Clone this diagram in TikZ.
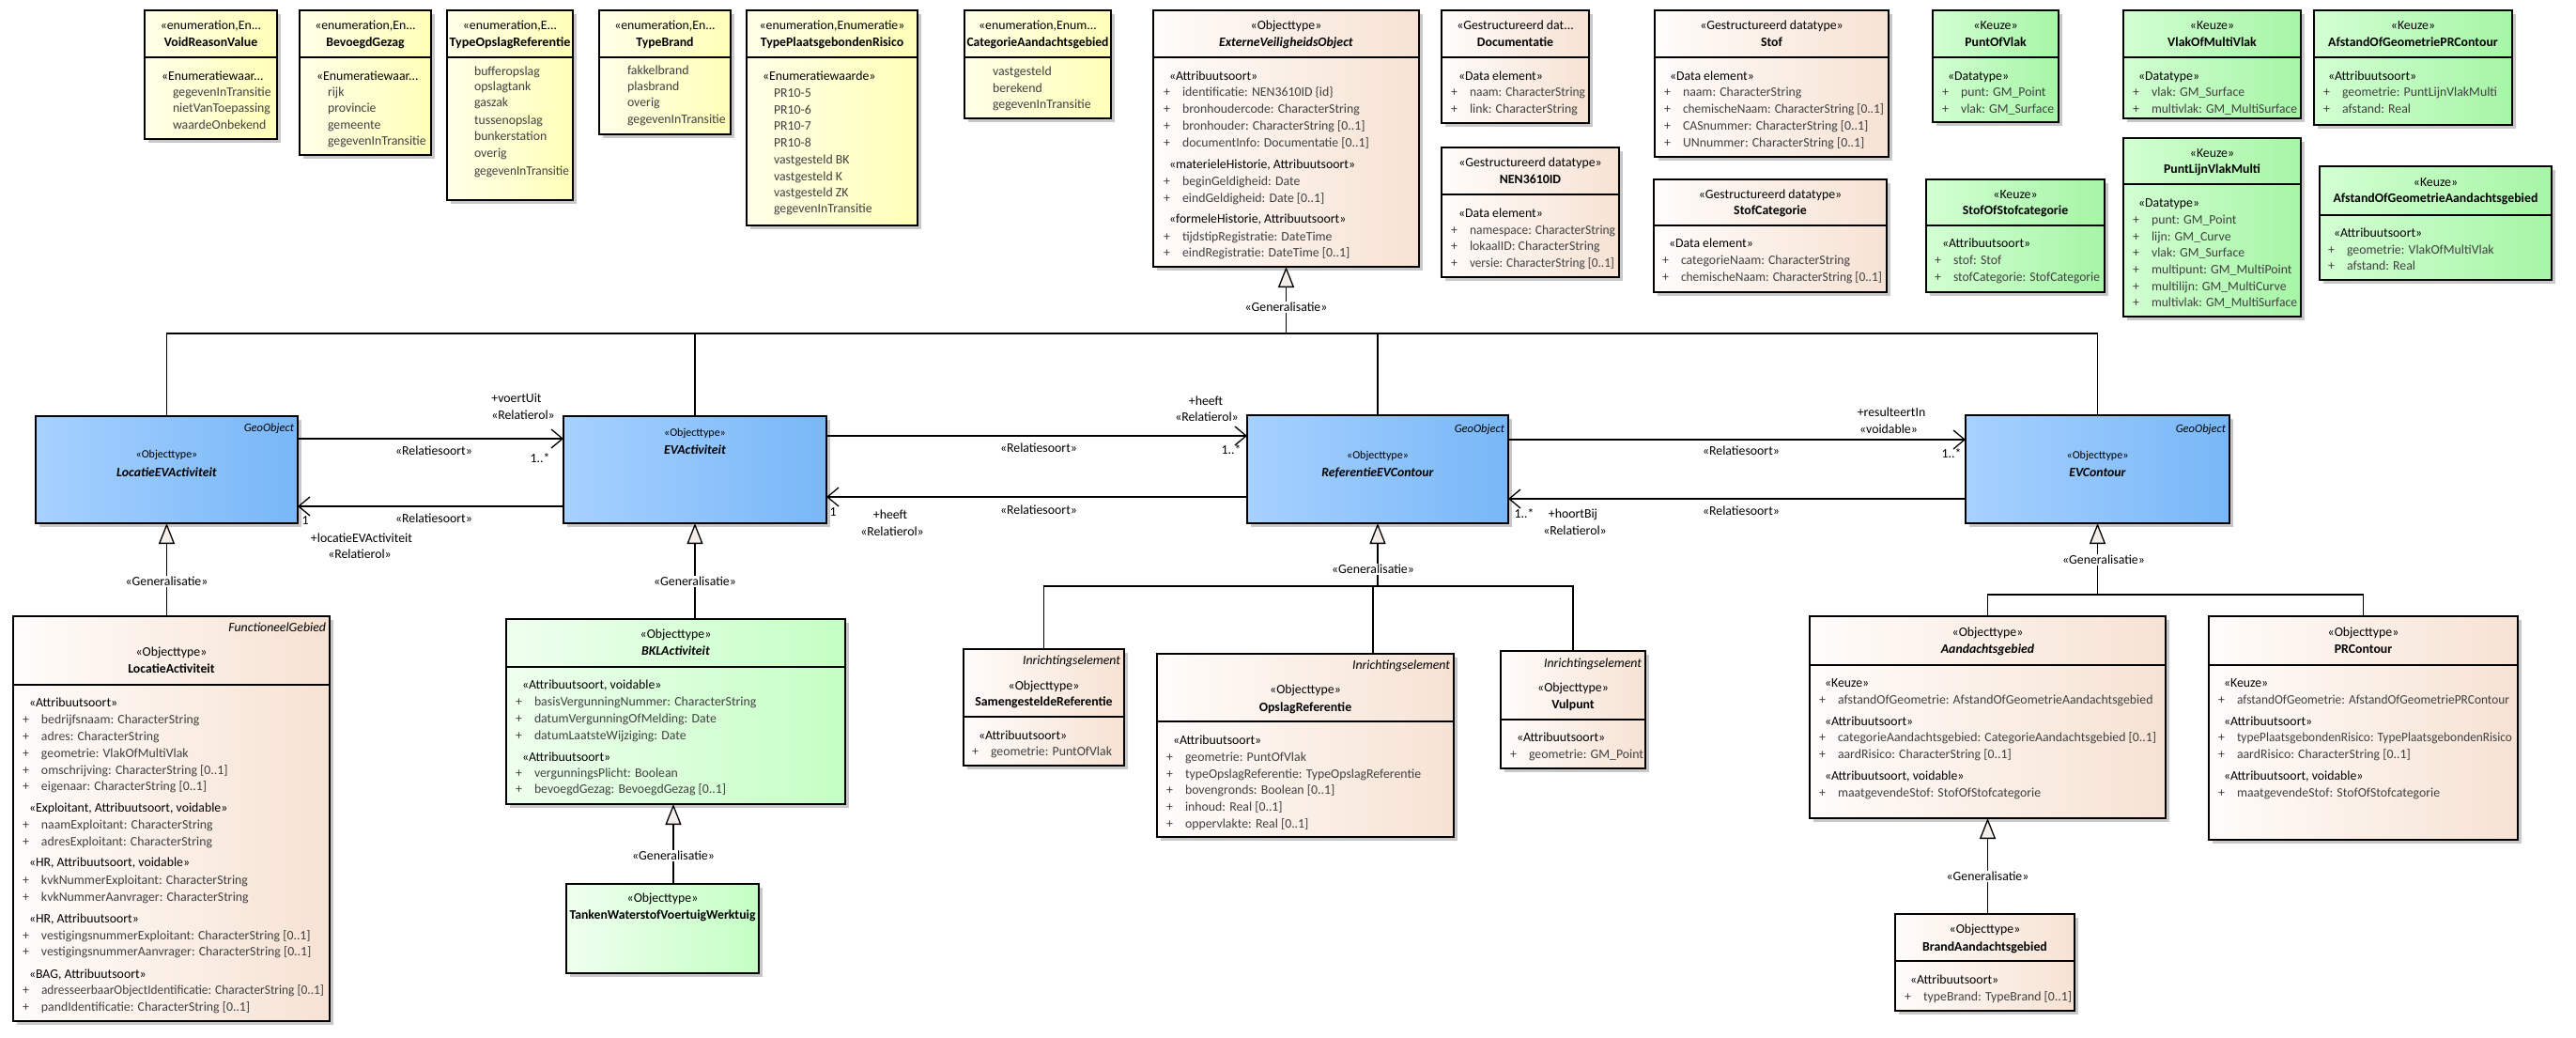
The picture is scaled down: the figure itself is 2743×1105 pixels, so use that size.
\documentclass[tikz,border=0pt]{standalone}
\usepackage{fontspec}
\usepackage{graphicx}
\setmainfont{Carlito}
\usetikzlibrary{arrows.meta}
\definecolor{enumL}{HTML}{FFFFE8}
\definecolor{enumR}{HTML}{FFFFB8}
\definecolor{objL}{HTML}{FFFCFA}
\definecolor{objR}{HTML}{F6E2D3}
\definecolor{keuL}{HTML}{D2FFD2}
\definecolor{keuR}{HTML}{A6F5A6}
\definecolor{bklL}{HTML}{EFFFEF}
\definecolor{bklR}{HTML}{C4FFC4}
\definecolor{geoL}{HTML}{A6D1FF}
\definecolor{geoR}{HTML}{78B7F7}
\definecolor{shadowc}{HTML}{C8C8C8}
\definecolor{attrc}{HTML}{404040}
\definecolor{genfill}{HTML}{F5EEEA}
\tikzset{
  box/.style={draw=black,line width=1.3pt,outer sep=0pt,inner sep=0pt},
  enumbox/.style={box,left color=enumL,right color=enumR},
  objbox/.style={box,left color=objL,right color=objR},
  keuzebox/.style={box,left color=keuL,right color=keuR},
  bklbox/.style={box,left color=bklL,right color=bklR},
  geobox/.style={box,left color=geoL,right color=geoR},
  txt/.style={inner sep=0pt,outer sep=0pt,font=\fontsize{13.8}{16}\selectfont},
  ster/.style={txt,text=black},
  attr/.style={txt,text=attrc},
  genlab/.style={txt,text=black,fill=white,inner sep=1.5pt},
  divline/.style={draw=black,line width=1.1pt},
  conn/.style={draw=black,line width=1.3pt},
  assoc/.style={conn,-{Straight Barb[length=12pt,width=20pt,line width=1.3pt]}},
  gen/.style={conn,-{Triangle[length=22pt,width=17pt,fill=genfill,line width=1.3pt]}},
}
\newcommand\umlS[4]{\node[ster,anchor=base west] (#1) at (#2,#3+4.3) {«#4};}
\newcommand\umlT[4]{\node[ster,anchor=base west] (#1) at (#2,#3+4.3) {#4};}
\newcommand\umlI[4]{\node[attr,anchor=base west] (#1) at (#2,#3+4.3) {#4};}
\newcommand\umlIw[5]{\node[attr,anchor=base west] (#1) at (#2,#3+4.3) {\resizebox{#4pt}{\height}{#5}};}
\newcommand\umlA[4]{\node[attr,anchor=base west] (#1) at (#2,#3+4.3) {\makebox[20pt][l]{+}#4};}
\newcommand\umlAw[5]{\node[attr,anchor=base west] (#1) at (#2,#3+4.3) {\makebox[20pt][l]{+}\resizebox{#4pt}{\height}{#5}};}
\newcommand\umlC[4]{\node[ster,anchor=base] (#1) at (#2,#3+4.3) {#4};}
\newcommand\umlCw[5]{\node[ster,anchor=base] (#1) at (#2,#3+4.3) {\resizebox{#4pt}{\height}{#5}};}
\newcommand\umlR[4]{\node[ster,anchor=base east] (#1) at (#2,#3+4.3) {\itshape #4};}
\newcommand\umlBox[6]{\fill[shadowc] (#3+4,#4+4) rectangle (#5+4,#6+4);
  \node[#2,anchor=north west,minimum width=#5-#3,minimum height=#6-#4] (#1) at (#3,#4) {};}
\newcommand\umlDiv[3]{\draw[divline] (#1,#3) -- (#2,#3);}
\begin{document}
\begin{tikzpicture}[x=1pt,y=-1pt]
\useasboundingbox (0,0) rectangle (2743,1105);
\fill[white] (0,0) rectangle (2743,1105);

% ---------------- enumerations ----------------
\umlBox{vrv}{enumbox}{154}{11}{295}{148}\umlDiv{154}{295}{61}
\umlC{vrv-h1}{224.5}{27}{«enumeration,En...}
\umlC{vrv-h2}{224.5}{45}{\textbf{VoidReasonValue}}
\umlT{vrv-s}{172}{81}{«Enumeratiewaar...}
\umlI{vrv-1}{184}{98}{gegevenInTransitie}
\umlI{vrv-2}{184}{115}{nietVanToepassing}
\umlI{vrv-3}{184}{133}{waardeOnbekend}

\umlBox{bg}{enumbox}{319}{11}{459}{165}\umlDiv{319}{459}{61}
\umlC{bg-h1}{389}{27}{«enumeration,En...}
\umlC{bg-h2}{389}{45}{\textbf{BevoegdGezag}}
\umlT{bg-s}{337}{81}{«Enumeratiewaar...}
\umlI{bg-1}{349}{98}{rijk}
\umlI{bg-2}{349}{115}{provincie}
\umlI{bg-3}{349}{133}{gemeente}
\umlI{bg-4}{349}{150}{gegevenInTransitie}

\umlBox{tor}{enumbox}{476}{11}{610}{213}\umlDiv{476}{610}{61}
\umlC{tor-h1}{543}{27}{«enumeration,E...}
\umlCw{tor-h2}{543}{45}{129}{\textbf{TypeOpslagReferentie}}
\umlI{tor-1}{505}{76}{bufferopslag}
\umlI{tor-2}{505}{92}{opslagtank}
\umlI{tor-3}{505}{109}{gaszak}
\umlI{tor-4}{505}{128}{tussenopslag}
\umlI{tor-5}{505}{145}{bunkerstation}
\umlI{tor-6}{505}{163}{overig}
\umlIw{tor-7}{505}{182}{101}{gegevenInTransitie}

\umlBox{tb}{enumbox}{638}{11}{778}{143}\umlDiv{638}{778}{61}
\umlC{tb-h1}{708}{27}{«enumeration,En...}
\umlC{tb-h2}{708}{45}{\textbf{TypeBrand}}
\umlI{tb-1}{668}{75}{fakkelbrand}
\umlI{tb-2}{668}{92}{plasbrand}
\umlI{tb-3}{668}{109}{overig}
\umlI{tb-4}{668}{127}{gegevenInTransitie}

\umlBox{tpr}{enumbox}{795}{11}{977}{240}\umlDiv{795}{977}{61}
\umlC{tpr-h1}{886}{27}{«enumeration,Enumeratie»}
\umlC{tpr-h2}{886}{45}{\textbf{TypePlaatsgebondenRisico}}
\umlS{tpr-s}{812}{81}{Enumeratiewaarde»}
\umlI{tpr-1}{824}{99}{PR10-5}
\umlI{tpr-2}{824}{117}{PR10-6}
\umlI{tpr-3}{824}{134}{PR10-7}
\umlI{tpr-4}{824}{152}{PR10-8}
\umlI{tpr-5}{824}{170}{vastgesteld BK}
\umlI{tpr-6}{824}{188}{vastgesteld K}
\umlI{tpr-7}{824}{205}{vastgesteld ZK}
\umlI{tpr-8}{824}{222}{gegevenInTransitie}

\umlBox{cag}{enumbox}{1027}{11}{1183}{126}\umlDiv{1027}{1183}{61}
\umlC{cag-h1}{1105}{27}{«enumeration,Enum...}
\umlCw{cag-h2}{1105}{45}{151}{\textbf{CategorieAandachtsgebied}}
\umlI{cag-1}{1057}{76}{vastgesteld}
\umlI{cag-2}{1057}{94}{berekend}
\umlI{cag-3}{1057}{111}{gegevenInTransitie}

% ---------------- ExterneVeiligheidsObject & datatypes ----------------
\umlBox{evo}{objbox}{1228}{11}{1511}{284}\umlDiv{1228}{1511}{61}
\umlC{evo-h1}{1369.5}{27}{«Objecttype»}
\umlC{evo-h2}{1369.5}{45}{\textbf{\textit{ExterneVeiligheidsObject}}}
\umlS{evo-s1}{1245}{81}{Attribuutsoort»}
\umlA{evo-1}{1239}{98}{identificatie: NEN3610ID \{id\}}
\umlA{evo-2}{1239}{116}{bronhoudercode: CharacterString}
\umlA{evo-3}{1239}{134}{bronhouder: CharacterString [0..1]}
\umlA{evo-4}{1239}{152}{documentInfo: Documentatie [0..1]}
\umlS{evo-s2}{1245}{175}{materieleHistorie, Attribuutsoort»}
\umlA{evo-5}{1239}{193}{beginGeldigheid: Date}
\umlA{evo-6}{1239}{211}{eindGeldigheid: Date [0..1]}
\umlS{evo-s3}{1245}{233}{formeleHistorie, Attribuutsoort»}
\umlA{evo-7}{1239}{252}{tijdstipRegistratie: DateTime}
\umlA{evo-8}{1239}{269}{eindRegistratie: DateTime [0..1]}

\umlBox{doc}{objbox}{1535}{11}{1692}{131}\umlDiv{1535}{1692}{61}
\umlC{doc-h1}{1613.5}{27}{«Gestructureerd dat...}
\umlC{doc-h2}{1613.5}{45}{\textbf{Documentatie}}
\umlS{doc-s}{1553}{81}{Data element»}
\umlAw{doc-1}{1545}{98}{123}{naam: CharacterString}
\umlA{doc-2}{1545}{116}{link: CharacterString}

\umlBox{nen}{objbox}{1535}{157}{1724}{295}\umlDiv{1535}{1724}{207}
\umlC{nen-h1}{1629.5}{173}{«Gestructureerd datatype»}
\umlC{nen-h2}{1629.5}{191}{\textbf{NEN3610ID}}
\umlS{nen-s}{1553}{227}{Data element»}
\umlAw{nen-1}{1545}{245}{155}{namespace: CharacterString}
\umlA{nen-2}{1545}{262}{lokaalID: CharacterString}
\umlAw{nen-3}{1545}{280}{154}{versie: CharacterString [0..1]}

\umlBox{stof}{objbox}{1762}{11}{2011}{167}\umlDiv{1762}{2011}{61}
\umlC{stof-h1}{1886.5}{27}{«Gestructureerd datatype»}
\umlC{stof-h2}{1886.5}{45}{\textbf{Stof}}
\umlS{stof-s}{1778}{81}{Data element»}
\umlA{stof-1}{1772}{98}{naam: CharacterString}
\umlAw{stof-2}{1772}{116}{214}{chemischeNaam: CharacterString [0..1]}
\umlA{stof-3}{1772}{134}{CASnummer: CharacterString [0..1]}
\umlA{stof-4}{1772}{152}{UNnummer: CharacterString [0..1]}

\umlBox{stofcat}{objbox}{1761}{191}{2009}{311}\umlDiv{1761}{2009}{240}
\umlC{stofcat-h1}{1885}{207}{«Gestructureerd datatype»}
\umlC{stofcat-h2}{1885}{224}{\textbf{StofCategorie}}
\umlS{stofcat-s}{1777}{259}{Data element»}
\umlA{stofcat-1}{1770}{277}{categorieNaam: CharacterString}
\umlAw{stofcat-2}{1770}{295}{214}{chemischeNaam: CharacterString [0..1]}

% ---------------- Keuze ----------------
\umlBox{pov}{keuzebox}{2058}{11}{2192}{130}\umlDiv{2058}{2192}{61}
\umlC{pov-h1}{2125}{27}{«Keuze»}
\umlC{pov-h2}{2125}{45}{\textbf{PuntOfVlak}}
\umlS{pov-s}{2074}{81}{Datatype»}
\umlA{pov-1}{2068}{98}{punt: GM\_Point}
\umlA{pov-2}{2068}{116}{vlak: GM\_Surface}

\umlBox{sos}{keuzebox}{2051}{191}{2241}{311}\umlDiv{2051}{2241}{240}
\umlC{sos-h1}{2146}{207}{«Keuze»}
\umlC{sos-h2}{2146}{224}{\textbf{StofOfStofcategorie}}
\umlS{sos-s}{2068}{259}{Attribuutsoort»}
\umlA{sos-1}{2060}{277}{stof: Stof}
\umlAw{sos-2}{2060}{295}{156}{stofCategorie: StofCategorie}

\umlBox{vomv}{keuzebox}{2261}{11}{2450}{126}\umlDiv{2261}{2450}{61}
\umlC{vomv-h1}{2355.5}{27}{«Keuze»}
\umlC{vomv-h2}{2355.5}{45}{\textbf{VlakOfMultiVlak}}
\umlS{vomv-s}{2277}{81}{Datatype»}
\umlA{vomv-1}{2271}{98}{vlak: GM\_Surface}
\umlAw{vomv-2}{2271}{116}{155}{multivlak: GM\_MultiSurface}

\umlBox{aogpr}{keuzebox}{2464}{11}{2675}{133}\umlDiv{2464}{2675}{61}
\umlC{aogpr-h1}{2569.5}{27}{«Keuze»}
\umlC{aogpr-h2}{2569.5}{45}{\textbf{AfstandOfGeometriePRContour}}
\umlS{aogpr-s}{2479}{81}{Attribuutsoort»}
\umlA{aogpr-1}{2474}{98}{geometrie: PuntLijnVlakMulti}
\umlA{aogpr-2}{2474}{116}{afstand: Real}

\umlBox{plvm}{keuzebox}{2261}{147}{2450}{337}\umlDiv{2261}{2450}{196}
\umlC{plvm-h1}{2355.5}{163}{«Keuze»}
\umlC{plvm-h2}{2355.5}{180}{\textbf{PuntLijnVlakMulti}}
\umlS{plvm-s}{2277}{216}{Datatype»}
\umlA{plvm-1}{2271}{234}{punt: GM\_Point}
\umlA{plvm-2}{2271}{252}{lijn: GM\_Curve}
\umlA{plvm-3}{2271}{269}{vlak: GM\_Surface}
\umlA{plvm-4}{2271}{287}{multipunt: GM\_MultiPoint}
\umlA{plvm-5}{2271}{305}{multilijn: GM\_MultiCurve}
\umlAw{plvm-6}{2271}{322}{155}{multivlak: GM\_MultiSurface}

\umlBox{aoga}{keuzebox}{2470}{177}{2717}{298}\umlDiv{2470}{2717}{229}
\umlC{aoga-h1}{2593.5}{194}{«Keuze»}
\umlC{aoga-h2}{2593.5}{211}{\textbf{AfstandOfGeometrieAandachtsgebied}}
\umlS{aoga-s}{2485}{248}{Attribuutsoort»}
\umlA{aoga-1}{2479}{266}{geometrie: VlakOfMultiVlak}
\umlA{aoga-2}{2479}{283}{afstand: Real}

% ---------------- blue GeoObjects ----------------
\umlBox{locev}{geobox}{38}{443}{317}{557}
\umlR{locev-g}{313}{455}{\fontsize{12.5}{14}\selectfont GeoObject}
\umlC{locev-h1}{177.5}{483}{\fontsize{12}{14}\selectfont «Objecttype»}
\umlC{locev-h2}{177.5}{503}{\textbf{\textit{LocatieEVActiviteit}}}

\umlBox{evact}{geobox}{600}{443}{880}{557}
\umlC{evact-h1}{740}{460}{\fontsize{12}{14}\selectfont «Objecttype»}
\umlC{evact-h2}{740}{479}{\textbf{\textit{EVActiviteit}}}

\umlBox{ref}{geobox}{1328}{442}{1606}{557}
\umlR{ref-g}{1602}{456}{\fontsize{12.5}{14}\selectfont GeoObject}
\umlC{ref-h1}{1467}{484}{\fontsize{12}{14}\selectfont «Objecttype»}
\umlC{ref-h2}{1467}{503}{\textbf{\textit{ReferentieEVContour}}}

\umlBox{evc}{geobox}{2093}{442}{2374}{557}
\umlR{evc-g}{2370}{456}{\fontsize{12.5}{14}\selectfont GeoObject}
\umlC{evc-h1}{2233.5}{484}{\fontsize{12}{14}\selectfont «Objecttype»}
\umlC{evc-h2}{2233.5}{503}{\textbf{\textit{EVContour}}}

% ---------------- lower classes ----------------
\umlBox{locact}{objbox}{14}{656}{351}{1087}\umlDiv{14}{351}{729}
\umlR{locact-g}{347}{668}{FunctioneelGebied}
\umlC{locact-h1}{182.5}{694}{«Objecttype»}
\umlC{locact-h2}{182.5}{712}{\textbf{LocatieActiviteit}}
\umlS{locact-s1}{31}{748}{Attribuutsoort»}
\umlA{locact-1}{24}{766}{bedrijfsnaam: CharacterString}
\umlA{locact-2}{24}{784}{adres: CharacterString}
\umlA{locact-3}{24}{802}{geometrie: VlakOfMultiVlak}
\umlA{locact-4}{24}{820}{omschrijving: CharacterString [0..1]}
\umlA{locact-5}{24}{837}{eigenaar: CharacterString [0..1]}
\umlS{locact-s2}{31}{860}{Exploitant, Attribuutsoort, voidable»}
\umlA{locact-6}{24}{878}{naamExploitant: CharacterString}
\umlA{locact-7}{24}{896}{adresExploitant: CharacterString}
\umlS{locact-s3}{31}{918}{HR, Attribuutsoort, voidable»}
\umlA{locact-8}{24}{937}{kvkNummerExploitant: CharacterString}
\umlA{locact-9}{24}{955}{kvkNummerAanvrager: CharacterString}
\umlS{locact-s4}{31}{978}{HR, Attribuutsoort»}
\umlA{locact-10}{24}{996}{vestigingsnummerExploitant: CharacterString [0..1]}
\umlA{locact-11}{24}{1013}{vestigingsnummerAanvrager: CharacterString [0..1]}
\umlS{locact-s5}{31}{1037}{BAG, Attribuutsoort»}
\umlAw{locact-12}{24}{1054}{301}{adresseerbaarObjectIdentificatie: CharacterString [0..1]}
\umlA{locact-13}{24}{1072}{pandIdentificatie: CharacterString [0..1]}

\umlBox{bkl}{bklbox}{539}{659}{900}{856}\umlDiv{539}{900}{710}
\umlC{bkl-h1}{719.5}{675}{«Objecttype»}
\umlC{bkl-h2}{719.5}{693}{\textbf{\textit{BKLActiviteit}}}
\umlS{bkl-s1}{556}{729}{Attribuutsoort, voidable»}
\umlA{bkl-1}{549}{747}{basisVergunningNummer: CharacterString}
\umlA{bkl-2}{549}{765}{datumVergunningOfMelding: Date}
\umlA{bkl-3}{549}{783}{datumLaatsteWijziging: Date}
\umlS{bkl-s2}{556}{806}{Attribuutsoort»}
\umlA{bkl-4}{549}{823}{vergunningsPlicht: Boolean}
\umlA{bkl-5}{549}{840}{bevoegdGezag: BevoegdGezag [0..1]}

\umlBox{tanken}{bklbox}{603}{941}{808}{1036}
\umlC{tanken-h1}{705.5}{956}{«Objecttype»}
\umlCw{tanken-h2}{705.5}{974}{198}{\textbf{TankenWaterstofVoertuigWerktuig}}

\umlBox{samen}{objbox}{1026}{691}{1197}{815}\umlDiv{1026}{1197}{763}
\umlR{samen-g}{1193}{703}{Inrichtingselement}
\umlC{samen-h1}{1111.5}{730}{«Objecttype»}
\umlC{samen-h2}{1111.5}{747}{\textbf{SamengesteldeReferentie}}
\umlS{samen-s}{1042}{783}{Attribuutsoort»}
\umlA{samen-1}{1035}{800}{geometrie: PuntOfVlak}

\umlBox{opslag}{objbox}{1232}{696}{1548}{891}\umlDiv{1232}{1548}{768}
\umlR{opslag-g}{1544}{708}{Inrichtingselement}
\umlC{opslag-h1}{1390}{734}{«Objecttype»}
\umlC{opslag-h2}{1390}{753}{\textbf{OpslagReferentie}}
\umlS{opslag-s}{1249}{788}{Attribuutsoort»}
\umlA{opslag-1}{1242}{806}{geometrie: PuntOfVlak}
\umlA{opslag-2}{1242}{824}{typeOpslagReferentie: TypeOpslagReferentie}
\umlA{opslag-3}{1242}{841}{bovengronds: Boolean [0..1]}
\umlA{opslag-4}{1242}{859}{inhoud: Real [0..1]}
\umlA{opslag-5}{1242}{877}{oppervlakte: Real [0..1]}

\umlBox{vulpunt}{objbox}{1598}{693}{1752}{818}\umlDiv{1598}{1752}{766}
\umlR{vulpunt-g}{1748}{706}{Inrichtingselement}
\umlC{vulpunt-h1}{1675}{732}{«Objecttype»}
\umlC{vulpunt-h2}{1675}{750}{\textbf{Vulpunt}}
\umlS{vulpunt-s}{1615}{785}{Attribuutsoort»}
\umlA{vulpunt-1}{1608}{803}{geometrie: GM\_Point}

\umlBox{aand}{objbox}{1927}{656}{2306}{871}\umlDiv{1927}{2306}{708}
\umlC{aand-h1}{2116.5}{673}{«Objecttype»}
\umlC{aand-h2}{2116.5}{691}{\textbf{\textit{Aandachtsgebied}}}
\umlS{aand-s1}{1943}{727}{Keuze»}
\umlA{aand-1}{1937}{745}{afstandOfGeometrie: AfstandOfGeometrieAandachtsgebied}
\umlS{aand-s2}{1943}{768}{Attribuutsoort»}
\umlA{aand-2}{1937}{785}{categorieAandachtsgebied: CategorieAandachtsgebied [0..1]}
\umlA{aand-3}{1937}{803}{aardRisico: CharacterString [0..1]}
\umlS{aand-s3}{1943}{826}{Attribuutsoort, voidable»}
\umlA{aand-4}{1937}{844}{maatgevendeStof: StofOfStofcategorie}

\umlBox{prc}{objbox}{2352}{656}{2681}{894}\umlDiv{2352}{2681}{708}
\umlC{prc-h1}{2516.5}{673}{«Objecttype»}
\umlC{prc-h2}{2516.5}{691}{\textbf{PRContour}}
\umlS{prc-s1}{2368}{727}{Keuze»}
\umlAw{prc-1}{2362}{745}{290}{afstandOfGeometrie: AfstandOfGeometriePRContour}
\umlS{prc-s2}{2368}{768}{Attribuutsoort»}
\umlAw{prc-2}{2362}{785}{293}{typePlaatsgebondenRisico: TypePlaatsgebondenRisico}
\umlA{prc-3}{2362}{803}{aardRisico: CharacterString [0..1]}
\umlS{prc-s3}{2368}{826}{Attribuutsoort, voidable»}
\umlA{prc-4}{2362}{844}{maatgevendeStof: StofOfStofcategorie}

\umlBox{brand}{objbox}{2018}{973}{2209}{1076}\umlDiv{2018}{2209}{1023}
\umlC{brand-h1}{2113.5}{989}{«Objecttype»}
\umlC{brand-h2}{2113.5}{1008}{\textbf{BrandAandachtsgebied}}
\umlS{brand-s}{2034}{1043}{Attribuutsoort»}
\umlA{brand-1}{2028}{1061}{typeBrand: TypeBrand [0..1]}

% ---------------- helper coordinates ----------------
\coordinate (busTop) at (0,355);
\coordinate (busRef) at (0,624);
\coordinate (busEvc) at (0,633);
\coordinate (a1) at (0,467);
\coordinate (a2) at (0,539);
\coordinate (a3) at (0,464);
\coordinate (a4) at (0,529);
\coordinate (a5) at (0,468);
\coordinate (a6) at (0,531);
\coordinate (gxT) at (717,0);
\coordinate (gxO) at (1462,0);

% ---------------- generalisations ----------------
\draw[conn] (locev.north) -- (locev.north |- busTop) -- (evc.north |- busTop) -- (evc.north);
\draw[conn] (evact.north) -- (evact.north |- busTop);
\draw[conn] (ref.north) -- (ref.north |- busTop);
\draw[gen] (evo.south |- busTop) -- (evo.south);
\node[genlab] (g-evo) at (1369.5,327) {«Generalisatie»};

\draw[gen] (locact.north -| locev.south) -- (locev.south);
\node[genlab] (g-locev) at (177.5,619) {«Generalisatie»};

\draw[gen] (bkl.north -| evact.south) -- (evact.south);
\node[genlab] (g-evact) at (740,619) {«Generalisatie»};

\draw[gen] (tanken.north -| gxT) -- (bkl.south -| gxT);
\node[genlab] (g-bkl) at (717,911) {«Generalisatie»};

\draw[conn] (samen.north) -- (samen.north |- busRef) -- (vulpunt.north |- busRef) -- (vulpunt.north);
\draw[conn] (opslag.north -| gxO) -- (gxO |- busRef);
\draw[gen] (ref.south |- busRef) -- (ref.south);
\node[genlab] (g-ref) at (1462,606) {«Generalisatie»};

\draw[conn] (aand.north) -- (aand.north |- busEvc) -- (prc.north |- busEvc) -- (prc.north);
\draw[gen] (evc.south |- busEvc) -- (evc.south);
\node[genlab] (g-evc) at (2240,596) {«Generalisatie»};

\draw[gen] (brand.north -| aand.south) -- (aand.south);
\node[genlab] (g-aand) at (2116.5,933) {«Generalisatie»};

% ---------------- associations ----------------
\draw[assoc] (locev.east |- a1) -- (evact.west |- a1);
\umlC{l1}{462}{480}{«Relatiesoort»}
\umlC{l1a}{550}{424}{+voertUit}
\umlC{l1b}{557}{442}{«Relatierol»}
\umlC{l1c}{575}{488}{1..*}

\draw[assoc] (evact.west |- a2) -- (locev.east |- a2);
\umlC{l2}{462}{552}{«Relatiesoort»}
\umlC{l2a}{325}{554}{1}
\umlC{l2b}{385}{573}{+locatieEVActiviteit}
\umlC{l2c}{383}{590}{«Relatierol»}

\draw[assoc] (evact.east |- a3) -- (ref.west |- a3);
\umlC{l3}{1106}{477}{«Relatiesoort»}
\umlC{l3a}{1284}{427}{+heeft}
\umlC{l3b}{1285}{444}{«Relatierol»}
\umlC{l3c}{1311}{479}{1..*}

\draw[assoc] (ref.west |- a4) -- (evact.east |- a4);
\umlC{l4}{1106}{543}{«Relatiesoort»}
\umlC{l4a}{887}{545}{1}
\umlC{l4b}{948}{548}{+heeft}
\umlC{l4c}{950}{566}{«Relatierol»}

\draw[assoc] (ref.east |- a5) -- (evc.west |- a5);
\umlC{l5}{1854}{480}{«Relatiesoort»}
\umlC{l5a}{2014}{439}{+resulteertIn}
\umlC{l5b}{2011}{457}{«voidable»}
\umlC{l5c}{2078}{483}{1..*}

\draw[assoc] (evc.west |- a6) -- (ref.east |- a6);
\umlC{l6}{1854}{544}{«Relatiesoort»}
\umlC{l6a}{1623}{547}{1..*}
\umlC{l6b}{1675}{547}{+hoortBij}
\umlC{l6c}{1677}{565}{«Relatierol»}
\end{tikzpicture}
\end{document}
